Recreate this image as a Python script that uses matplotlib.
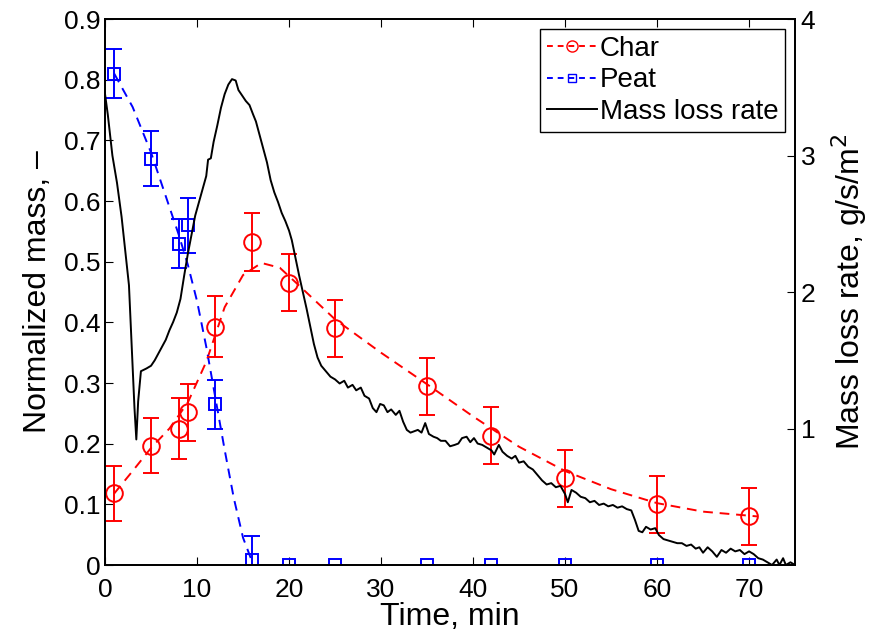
import numpy as np
import matplotlib
matplotlib.use("Agg")
from matplotlib import pyplot as plt
from matplotlib.lines import Line2D

plt.rcParams['font.family'] = ['Liberation Sans', 'DejaVu Sans']

# measured points (time in min, normalized mass, error)
char_t = [1, 5, 8, 9, 12, 16, 20, 25, 35, 42, 50, 60, 70]
char_m = [0.118, 0.197, 0.225, 0.252, 0.393, 0.533, 0.465, 0.390, 0.295, 0.213, 0.143, 0.100, 0.080]
char_err = [0.046, 0.046, 0.05, 0.047, 0.05, 0.048, 0.047, 0.047, 0.047, 0.047, 0.047, 0.047, 0.047]

peat_t = [1, 5, 8, 9, 12, 16, 20, 25, 35, 42, 50, 60, 70]
peat_m = [0.810, 0.670, 0.530, 0.560, 0.265, 0.008, 0, 0, 0, 0, 0, 0, 0]
peat_err = [0.04, 0.045, 0.04, 0.045, 0.04, 0.04, 0, 0, 0, 0, 0, 0, 0]

# fitted (dashed) curves
char_fit_t = [1, 3, 5, 7, 9, 11, 13, 15, 17, 19, 21, 25, 30, 35, 40, 45, 50, 55, 60, 65, 71]
char_fit_m = [0.118, 0.155, 0.193, 0.225, 0.268, 0.335, 0.425, 0.478, 0.498, 0.490, 0.462,
              0.405, 0.350, 0.298, 0.245, 0.195, 0.155, 0.125, 0.102, 0.088, 0.080]
peat_fit_t = [1, 3, 5, 7, 8, 9, 10, 11, 12, 13, 14, 15, 16]
peat_fit_m = [0.810, 0.755, 0.680, 0.590, 0.545, 0.495, 0.435, 0.360, 0.275, 0.190, 0.110, 0.045, 0.005]

# mass loss rate, g/s/m2
mlr_t = [0, 0.3, 0.8, 1.3, 1.8, 2.2, 2.6, 2.9, 3.2, 3.4, 3.6, 3.9, 4.5, 5.0, 5.4, 5.8, 6.2,
         6.6, 7.0, 7.4, 7.8, 8.2, 8.6, 9.0, 9.4, 9.8, 10.3, 10.6, 11.0, 11.2, 11.5, 11.8,
         12.2, 12.6, 13.0, 13.4, 13.8, 14.2, 14.5, 14.9, 15.3, 15.7, 16.1, 16.4, 16.8,
         17.2, 17.6, 18.0, 18.4, 18.8, 19.2, 19.6, 20.0, 20.3, 20.7, 21.1, 21.5, 21.9,
         22.3, 22.7, 23.1, 23.5, 24.0, 24.5, 25.0, 25.5, 26.0, 26.4, 26.9, 27.3, 27.8,
         28.2, 28.7, 29.1, 29.5, 29.9, 30.3, 30.7, 31.1, 31.6, 32.0, 32.4, 32.8, 33.2,
         33.6, 34.0, 34.4, 34.8, 35.2, 35.7, 36.1, 36.5, 37.0, 37.5, 38.0, 38.4, 38.8,
         39.3, 39.7, 40.1, 40.5, 41.0, 41.5, 42.0, 42.3, 42.8, 43.2, 43.7, 44.2, 44.6,
         45.0, 45.5, 46.0, 46.5, 47.0, 47.5, 48.0, 48.5, 49.0, 49.5, 50.0, 50.3, 50.7,
         51.2, 51.7, 52.2, 52.7, 53.2, 53.7, 54.2, 54.7, 55.2, 55.7, 56.2, 56.7, 57.2,
         57.6, 58.0, 58.4, 58.8, 59.3, 59.8, 60.2, 60.7, 61.2, 61.7, 62.2, 62.7, 63.2,
         63.7, 64.2, 64.6, 65.0, 65.5, 66.0, 66.5, 67.0, 67.5, 68.0, 68.5, 69.0, 69.5,
         70.0, 70.5, 71.0, 71.5, 72.0, 72.5, 73.0, 73.3, 73.7, 74.0, 74.5, 75.0]
mlr = [3.45, 3.30, 3.00, 2.80, 2.55, 2.30, 2.05, 1.60, 1.15, 0.92, 1.20, 1.42, 1.44, 1.46,
       1.50, 1.55, 1.60, 1.65, 1.72, 1.78, 1.85, 1.95, 2.12, 2.28, 2.42, 2.56, 2.68, 2.75,
       2.85, 2.97, 2.98, 3.10, 3.22, 3.35, 3.45, 3.52, 3.56, 3.55, 3.48, 3.44, 3.40, 3.37,
       3.30, 3.25, 3.15, 3.05, 2.95, 2.82, 2.73, 2.66, 2.58, 2.52, 2.45, 2.38, 2.25, 2.12,
       2.00, 1.88, 1.75, 1.62, 1.52, 1.46, 1.42, 1.38, 1.36, 1.33, 1.35, 1.30, 1.32, 1.28,
       1.30, 1.24, 1.22, 1.15, 1.12, 1.18, 1.17, 1.12, 1.14, 1.10, 1.13, 1.05, 0.99, 0.97,
       0.98, 0.99, 0.97, 1.04, 0.96, 0.94, 0.93, 0.91, 0.91, 0.87, 0.88, 0.89, 0.93, 0.94,
       0.90, 0.93, 0.89, 0.88, 0.86, 0.84, 0.81, 0.88, 0.83, 0.80, 0.78, 0.80, 0.75, 0.76,
       0.72, 0.70, 0.66, 0.62, 0.59, 0.60, 0.57, 0.58, 0.52, 0.46, 0.55, 0.53, 0.50, 0.49,
       0.46, 0.47, 0.44, 0.45, 0.43, 0.44, 0.42, 0.43, 0.41, 0.40, 0.33, 0.25, 0.24, 0.28,
       0.26, 0.27, 0.22, 0.19, 0.18, 0.17, 0.16, 0.16, 0.14, 0.15, 0.12, 0.13, 0.09, 0.13,
       0.10, 0.06, 0.11, 0.09, 0.12, 0.10, 0.11, 0.08, 0.10, 0.08, 0.05, 0.04, 0.02, 0.00,
       0.04, 0.00, 0.05, 0.00, 0.02, 0.00]

DASH = (5, 3.5)

fig = plt.figure(figsize=(8.79, 6.36), dpi=100)
ax = fig.add_axes([0.1195, 0.1116, 0.785, 0.8584])

ax.plot(char_fit_t, char_fit_m, '--', color='red', lw=1.4, dashes=DASH)
ax.plot(peat_fit_t, peat_fit_m, '--', color='blue', lw=1.4, dashes=DASH)
ax.errorbar(char_t, char_m, yerr=char_err, fmt='o', color='red', mfc='none',
            ms=12, mew=1.4, elinewidth=1.4, capsize=6, capthick=1.4)
ax.errorbar(peat_t, peat_m, yerr=peat_err, fmt='s', color='blue', mfc='none',
            ms=9, mew=1.4, elinewidth=1.4, capsize=6, capthick=1.4)

ax.set_xlim(0, 75)
ax.set_ylim(0, 0.9)
ax.set_xticks(np.arange(0, 71, 10))
ax.set_yticks(np.arange(0, 0.91, 0.1))
ax.set_yticklabels(['0'] + ['%.1f' % v for v in np.arange(0.1, 0.91, 0.1)])
ax.tick_params(direction='in', labelsize=19, length=6, top=True, pad=3)
ax.tick_params(axis='x', pad=9)
ax.set_xlabel('Time, min', fontsize=23, labelpad=0)
ax.set_ylabel('Normalized mass, \u2013', fontsize=23, labelpad=8)

ax2 = ax.twinx()
ax2.plot(mlr_t, mlr, '-', color='black', lw=1.4)
ax2.set_ylim(0, 4)
ax2.set_yticks([1, 2, 3, 4])
ax2.tick_params(direction='in', labelsize=19, length=6, pad=4)
ax2.set_ylabel('Mass loss rate, g/s/m$^2$', fontsize=23, labelpad=10)

for a in (ax, ax2):
    for s in a.spines.values():
        s.set_linewidth(1.3)

handles = [
    Line2D([], [], ls='--', color='red', marker='o', mfc='none', ms=8, lw=1.4, dashes=(3, 2.5)),
    Line2D([], [], ls='--', color='blue', marker='s', mfc='none', ms=6, lw=1.4, dashes=(3, 2.5)),
    Line2D([], [], ls='-', color='black', lw=1.4),
]
leg = ax2.legend(handles, ['Char', 'Peat', 'Mass loss rate'], loc='upper right',
                 fontsize=20, fancybox=False, edgecolor='black', framealpha=1,
                 handlelength=1.8, handletextpad=0.1, borderpad=0.25, labelspacing=0.2,
                 borderaxespad=0.35)
leg.get_frame().set_linewidth(1.0)

fig.savefig('out.png', dpi=100)
